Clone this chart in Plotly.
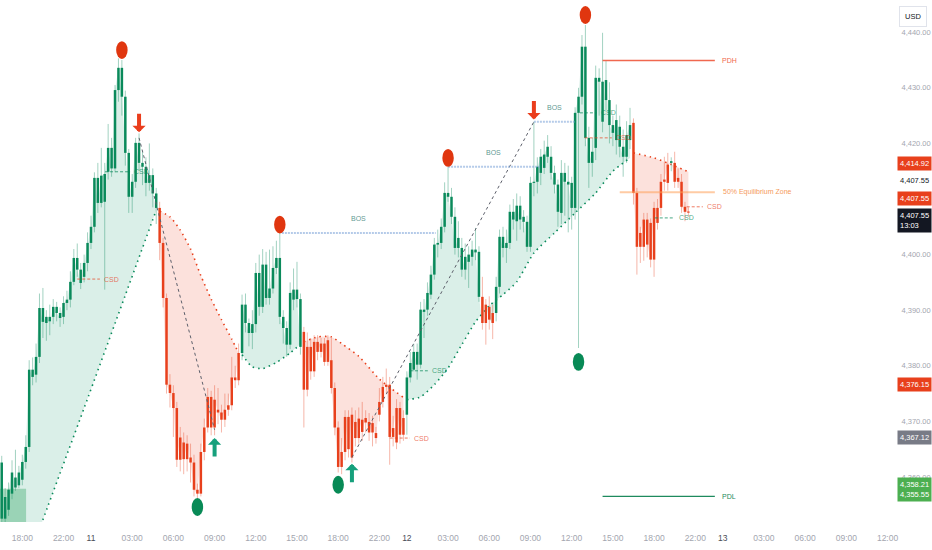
import math
import pandas as pd
import plotly.graph_objects as go

# XAUUSD 15m, 10 Nov 16:30 -> 12 Nov 20:30 (market shut in the 21:00 hour)
axis_times = pd.date_range("2025-11-10 16:30", "2025-11-13 12:00", freq="15min")
axis_times = axis_times[axis_times.hour != 21]

opens = [
    4352.5, 4356.4, 4354.1, 4357.0, 4359.9, 4358.5, 4359.5, 4362.7, 4365.4, 4379.3,
    4378.4, 4381.6, 4390.4, 4387.7, 4388.8, 4388.8, 4390.6, 4389.5, 4388.8, 4391.3,
    4391.9, 4395.1, 4399.4, 4397.3, 4396.0, 4398.5, 4402.1, 4405.0, 4413.8, 4409.3,
    4409.5, 4414.9, 4419.2, 4415.5, 4429.6, 4433.6, 4428.4, 4418.3, 4410.4, 4413.1,
    4420.1, 4416.5, 4415.8, 4412.9, 4414.3, 4411.0, 4408.4, 4402.1, 4392.2, 4376.6,
    4375.1, 4372.4, 4363.1, 4366.2, 4363.2, 4363.5, 4362.6, 4357.7, 4357.0, 4364.5,
    4368.9, 4374.4, 4368.9, 4372.1, 4371.6, 4370.3, 4372.1, 4372.9, 4377.9, 4377.4,
    4382.3, 4391.0, 4387.7, 4385.9, 4387.5, 4396.7, 4390.6, 4398.2, 4392.2, 4393.9,
    4397.6, 4399.4, 4388.8, 4386.8, 4383.8, 4391.9, 4393.7, 4392.0, 4386.1, 4375.7,
    4383.4, 4379.0, 4384.3, 4382.5, 4384.0, 4380.7, 4381.0, 4376.0, 4368.9, 4361.8,
    4364.5, 4370.8, 4363.5, 4369.9, 4367.0, 4370.3, 4369.8, 4369.9, 4368.0, 4367.9,
    4371.2, 4373.5, 4376.2, 4376.6, 4367.2, 4366.2, 4372.4, 4367.6, 4371.2, 4377.9,
    4379.3, 4382.5, 4380.2, 4390.1, 4390.1, 4392.8, 4396.4, 4401.8, 4402.1, 4405.0,
    4411.1, 4410.4, 4406.8, 4401.2, 4401.2, 4397.3, 4400.0, 4399.6, 4400.9, 4400.5,
    4392.4, 4387.7, 4390.6, 4389.5, 4389.5, 4394.2, 4403.2, 4401.2, 4402.1, 4407.7,
    4406.0, 4408.8, 4406.8, 4405.9, 4401.4, 4412.9, 4413.1, 4414.7, 4415.6, 4417.6,
    4417.6, 4414.7, 4412.6, 4407.5, 4414.7, 4413.1, 4412.9, 4408.4, 4425.5, 4428.4,
    4437.4, 4421.0, 4416.5, 4419.2, 4431.8, 4431.1, 4427.8, 4427.8, 4423.3, 4420.6,
    4423.0, 4419.4, 4417.6, 4420.6, 4423.7, 4411.1, 4401.4, 4401.4, 4406.3, 4405.7,
    4399.1, 4408.4, 4408.4, 4413.1, 4412.9, 4416.5, 4416.5, 4413.1, 4413.1, 4408.6,
    4407.7,
]
highs = [
    4363.8, 4358.0, 4359.0, 4363.0, 4364.9, 4362.0, 4364.0, 4367.5, 4381.0, 4381.5,
    4384.0, 4393.0, 4394.0, 4390.0, 4391.0, 4392.0, 4391.5, 4390.5, 4392.5, 4393.5,
    4397.0, 4401.0, 4402.0, 4398.5, 4400.0, 4404.0, 4407.0, 4414.8, 4416.5, 4419.2,
    4416.5, 4423.5, 4421.0, 4430.5, 4435.3, 4435.0, 4429.5, 4419.0, 4414.5, 4421.0,
    4421.8, 4418.5, 4417.5, 4420.0, 4415.5, 4412.0, 4409.5, 4403.0, 4393.0, 4378.5,
    4376.5, 4373.5, 4369.0, 4368.0, 4367.5, 4366.0, 4364.0, 4358.8, 4366.0, 4370.5,
    4376.0, 4375.5, 4376.5, 4376.0, 4373.0, 4375.0, 4375.0, 4381.6, 4380.0, 4384.0,
    4392.8, 4393.0, 4388.5, 4390.0, 4398.5, 4400.0, 4401.0, 4400.5, 4400.9, 4401.5,
    4402.5, 4403.9, 4390.0, 4388.0, 4395.0, 4397.5, 4398.7, 4393.0, 4387.0, 4386.0,
    4385.0, 4385.5, 4385.5, 4385.0, 4385.0, 4385.5, 4385.0, 4377.0, 4370.0, 4367.0,
    4372.0, 4372.0, 4372.5, 4372.0, 4372.5, 4373.5, 4372.0, 4371.5, 4371.0, 4369.0,
    4376.0, 4378.0, 4379.5, 4378.0, 4371.0, 4374.0, 4373.5, 4372.0, 4379.0, 4382.5,
    4384.0, 4384.0, 4391.5, 4392.0, 4395.0, 4398.0, 4403.0, 4404.5, 4406.5, 4413.0,
    4415.8, 4412.0, 4408.5, 4406.0, 4403.0, 4402.0, 4401.5, 4402.5, 4404.8, 4401.5,
    4396.0, 4392.0, 4392.5, 4391.0, 4396.0, 4404.5, 4405.0, 4404.5, 4409.0, 4410.0,
    4411.0, 4410.5, 4408.0, 4407.0, 4414.0, 4423.9, 4417.5, 4419.0, 4420.5, 4421.5,
    4419.5, 4416.0, 4413.5, 4417.0, 4416.5, 4416.0, 4414.0, 4426.5, 4430.0, 4439.5,
    4441.3, 4423.0, 4421.0, 4434.0, 4433.5, 4439.9, 4435.0, 4431.0, 4425.0, 4427.0,
    4425.0, 4422.5, 4424.0, 4426.4, 4424.5, 4412.0, 4405.0, 4407.5, 4407.5, 4406.5,
    4409.5, 4410.0, 4414.5, 4417.6, 4418.3, 4417.5, 4418.5, 4415.5, 4414.5, 4409.5,
    4408.5,
]
lows = [
    4350.0, 4351.0, 4353.0, 4356.0, 4357.5, 4358.0, 4358.5, 4361.5, 4364.5, 4376.5,
    4377.0, 4380.5, 4385.0, 4384.5, 4385.5, 4387.5, 4388.0, 4387.0, 4387.5, 4390.0,
    4390.5, 4394.5, 4396.0, 4393.8, 4395.0, 4397.0, 4401.0, 4404.0, 4407.5, 4408.5,
    4393.7, 4413.5, 4414.0, 4414.8, 4427.5, 4425.0, 4416.0, 4407.5, 4407.5, 4412.0,
    4415.0, 4412.5, 4410.5, 4411.5, 4408.5, 4405.5, 4399.0, 4390.5, 4375.0, 4372.5,
    4367.2, 4361.8, 4361.0, 4360.5, 4361.0, 4359.0, 4356.5, 4356.2, 4356.5, 4363.0,
    4368.0, 4367.5, 4367.5, 4369.5, 4368.0, 4369.0, 4371.0, 4372.0, 4376.0, 4376.5,
    4381.0, 4386.0, 4383.5, 4383.0, 4386.0, 4389.0, 4389.5, 4391.0, 4391.0, 4393.0,
    4396.5, 4387.5, 4384.0, 4381.6, 4383.0, 4390.0, 4390.5, 4382.0, 4368.9, 4374.5,
    4377.5, 4378.0, 4381.0, 4381.5, 4380.0, 4380.0, 4375.0, 4367.5, 4360.8, 4360.5,
    4363.0, 4363.5, 4362.6, 4365.5, 4366.0, 4366.5, 4368.0, 4366.5, 4365.5, 4366.0,
    4370.0, 4372.5, 4375.0, 4362.2, 4365.5, 4365.0, 4366.0, 4366.5, 4367.6, 4377.0,
    4379.0, 4377.5, 4379.5, 4385.0, 4389.0, 4392.0, 4395.5, 4399.5, 4401.0, 4404.0,
    4409.5, 4405.5, 4400.0, 4399.5, 4396.0, 4395.5, 4394.0, 4398.0, 4399.0, 4391.5,
    4386.5, 4383.8, 4386.5, 4384.8, 4388.0, 4393.0, 4399.5, 4398.5, 4401.0, 4404.5,
    4402.5, 4404.5, 4404.0, 4400.5, 4400.5, 4410.5, 4411.0, 4412.5, 4414.5, 4416.5,
    4413.5, 4411.0, 4405.0, 4405.5, 4407.0, 4404.0, 4404.5, 4406.3, 4383.2, 4427.0,
    4419.5, 4412.0, 4414.0, 4417.0, 4425.0, 4422.0, 4426.0, 4420.0, 4419.5, 4418.0,
    4417.5, 4414.0, 4416.5, 4419.0, 4409.0, 4396.4, 4398.5, 4398.9, 4399.5, 4397.7,
    4396.0, 4404.5, 4407.0, 4411.5, 4411.5, 4415.0, 4412.0, 4412.0, 4407.5, 4406.0,
    4406.8,
]
closes = [
    4362.6, 4352.5, 4357.7, 4360.8, 4358.1, 4360.8, 4362.7, 4365.4, 4379.3, 4378.0,
    4381.6, 4390.4, 4387.9, 4388.8, 4388.0, 4390.6, 4389.5, 4388.6, 4391.3, 4391.9,
    4395.1, 4399.4, 4397.3, 4394.9, 4398.5, 4402.1, 4405.0, 4413.8, 4409.3, 4414.2,
    4414.5, 4419.2, 4415.5, 4429.6, 4433.6, 4428.4, 4418.3, 4410.4, 4413.1, 4420.1,
    4416.5, 4415.8, 4412.9, 4414.3, 4411.0, 4408.4, 4402.1, 4392.2, 4376.6, 4375.1,
    4372.4, 4363.1, 4367.1, 4363.2, 4366.0, 4362.6, 4357.7, 4357.0, 4364.5, 4368.9,
    4374.4, 4368.9, 4373.9, 4371.6, 4370.3, 4372.1, 4372.9, 4377.9, 4377.4, 4382.3,
    4391.0, 4387.7, 4385.9, 4387.5, 4396.7, 4390.6, 4398.2, 4392.2, 4393.9, 4397.6,
    4399.4, 4388.8, 4386.8, 4383.8, 4393.1, 4393.7, 4392.0, 4383.4, 4375.7, 4383.4,
    4379.0, 4384.3, 4382.5, 4384.0, 4380.7, 4384.6, 4376.0, 4368.9, 4361.8, 4364.5,
    4370.8, 4365.0, 4371.2, 4367.0, 4370.5, 4368.1, 4370.6, 4368.0, 4369.7, 4367.0,
    4373.5, 4376.2, 4376.6, 4367.2, 4368.8, 4372.4, 4367.6, 4370.6, 4377.9, 4380.5,
    4382.5, 4380.2, 4390.1, 4389.7, 4393.1, 4396.4, 4401.8, 4402.1, 4405.0, 4411.1,
    4410.4, 4406.8, 4401.2, 4403.0, 4397.3, 4399.6, 4398.7, 4400.9, 4400.4, 4392.4,
    4387.7, 4391.0, 4388.3, 4387.7, 4394.2, 4403.2, 4401.2, 4402.1, 4407.7, 4406.3,
    4408.8, 4406.3, 4405.9, 4401.4, 4412.9, 4413.1, 4415.8, 4417.6, 4418.0, 4419.4,
    4414.7, 4412.6, 4407.7, 4414.7, 4413.1, 4412.6, 4408.4, 4425.5, 4428.4, 4437.4,
    4421.0, 4416.5, 4418.5, 4431.8, 4431.1, 4423.9, 4431.4, 4423.3, 4421.9, 4424.2,
    4419.4, 4417.6, 4421.5, 4423.3, 4411.1, 4401.4, 4403.9, 4406.3, 4401.8, 4399.1,
    4408.4, 4405.7, 4413.1, 4413.5, 4416.2, 4416.8, 4413.1, 4413.8, 4408.6, 4407.7,
    4407.55,
]
times = axis_times[:len(closes)]

# trend state (first bar, last bar, +1 up / -1 down) and bars painted against it
regimes = [(0, 45, 1), (46, 69, -1), (70, 87, 1), (88, 117, -1), (118, 183, 1), (184, 200, -1)]
off_trend_bars = [140, 141, 142, 143, 195]

# trailing stop read at a few bars per regime
trail_bars = [
    [0, 12, 24, 36, 45],
    [46, 49, 52, 55, 58, 61, 64, 67, 69],
    [70, 73, 76, 80, 84, 87],
    [88, 92, 96, 99, 104, 110, 117],
    [118, 122, 126, 130, 134, 138, 142, 146, 150, 155, 161, 167, 173, 178, 183],
    [184, 190, 195, 200],
]
trail_vals = [
    [4331.8, 4352.3, 4372.4, 4392.7, 4408.0],
    [4407.8, 4406.8, 4404.4, 4401.0, 4396.2, 4392.0, 4388.3, 4384.8, 4382.3],
    [4382.0, 4379.8, 4379.5, 4380.6, 4382.3, 4383.9],
    [4384.3, 4385.2, 4385.2, 4384.0, 4381.7, 4377.6, 4374.3],
    [4373.9, 4374.4, 4376.6, 4379.6, 4383.8, 4387.9, 4390.8, 4392.8, 4395.1,
     4400.3, 4403.9, 4407.5, 4411.1, 4415.0, 4417.4],
    [4418.3, 4417.4, 4416.2, 4414.9],
]

swing_high_bars = [35, 81, 130, 170]
swing_high_marks = [4436.8, 4405.4, 4417.4, 4443.1]
swing_low_bars = [57, 98, 168]
swing_low_marks = [4354.6, 4358.6, 4380.7]

sell_bars = [40, 155]
sell_tips = [4422.0, 4424.3]
buy_bars = [62, 102]
buy_tips = [4367.0, 4362.4]

# dashed swing links: (bar, price) -> (bar, price)
links = [((40, 4421.0), (62, 4368.5)), ((102, 4363.5), (155, 4423.9))]

bos_levels = [(81.6, 126.4, 4403.9), (130.0, 156.7, 4415.8), (155.0, 166.9, 4423.9)]

# CSD: first bar, last bar, price, side
csd_levels = [
    (22.0, 28.6, 4395.6, -1), (30.1, 37.4, 4414.9, 1),
    (113.0, 118.9, 4367.0, -1), (118.9, 124.1, 4379.1, 1),
    (168.4, 173.3, 4425.5, 1), (169.8, 177.7, 4421.0, -1),
    (190.2, 196.0, 4406.6, 1), (199.5, 204.2, 4408.6, -1),
]

pdh = (175.0, 207.7, 4434.9)
pdl = (175.0, 207.7, 4356.5)
equilibrium = (180.0, 207.7, 4411.2)
demand_zone = (-0.5, 7.1, 4357.9)

tag_values = [4414.92, 4407.55, 4407.55, 4407.55, 4376.15, 4367.12, 4358.21, 4355.55]
countdown = "13:03"

tick_times = [
    "2025-11-10 18:00", "2025-11-10 22:00", "2025-11-11 00:00", "2025-11-11 03:00",
    "2025-11-11 06:00", "2025-11-11 09:00", "2025-11-11 12:00", "2025-11-11 15:00",
    "2025-11-11 18:00", "2025-11-11 22:00", "2025-11-12 00:00", "2025-11-12 03:00",
    "2025-11-12 06:00", "2025-11-12 09:00", "2025-11-12 12:00", "2025-11-12 15:00",
    "2025-11-12 18:00", "2025-11-12 22:00", "2025-11-13 00:00", "2025-11-13 03:00",
    "2025-11-13 06:00", "2025-11-13 09:00", "2025-11-13 12:00",
]
tick_text = [
    "18:00", "22:00", "11", "03:00", "06:00", "09:00", "12:00", "15:00", "18:00",
    "22:00", "12", "03:00", "06:00", "09:00", "12:00", "15:00", "18:00", "22:00",
    "13", "03:00", "06:00", "09:00", "12:00",
]

GREEN = "#0a8a5b"
RED = "#e8401c"
GREEN_WICK = "rgba(10,138,91,0.38)"
RED_WICK = "rgba(232,64,28,0.38)"
GREEN_FILL = "rgba(10,150,100,0.15)"
RED_FILL = "rgba(240,80,50,0.17)"
FONT = "Liberation Sans, Arial, sans-serif"
STEP = pd.Timedelta(minutes=15)


def at(i):
    k = int(math.floor(i))
    if k < 0:
        return axis_times[0] + STEP * i
    return axis_times[k] + STEP * (i - k)


fig = go.Figure()

# trail fills + dotted trail
for (start, end, d), kb, kv in zip(regimes, trail_bars, trail_vals):
    fig.add_trace(go.Scatter(x=times[start:end + 1], y=closes[start:end + 1], mode="lines",
                             line=dict(width=0, color="rgba(0,0,0,0)"), hoverinfo="skip"))
    fig.add_trace(go.Scatter(x=[times[i] for i in kb], y=kv, mode="lines",
                             line=dict(color=GREEN if d > 0 else RED, width=1.6,
                                       dash="1.5px,4px", shape="spline", smoothing=0.6),
                             fill="tonexty", fillcolor=GREEN_FILL if d > 0 else RED_FILL,
                             hoverinfo="skip"))

# candles coloured by trend state
state = [0] * len(closes)
for start, end, d in regimes:
    for i in range(start, end + 1):
        state[i] = d
for i in off_trend_bars:
    state[i] = -state[i]

for d, body_col, wick_col in [(1, GREEN, GREEN_WICK), (-1, RED, RED_WICK)]:
    wx, wy, bx, by = [], [], [], []
    for t, o, h, l, c, s in zip(times, opens, highs, lows, closes, state):
        if s != d:
            continue
        lo, hi = min(o, c), max(o, c)
        hi = max(hi, lo + 0.2)
        wx += [t, t, None]
        wy += [l, h, None]
        bx += [t, t, None]
        by += [lo, hi, None]
    fig.add_trace(go.Scatter(x=wx, y=wy, mode="lines", line=dict(color=wick_col, width=1),
                             hoverinfo="skip"))
    fig.add_trace(go.Scatter(x=bx, y=by, mode="lines", line=dict(color=body_col, width=2.5),
                             hoverinfo="skip"))

# dashed swing links
for (b0, p0), (b1, p1) in links:
    fig.add_trace(go.Scatter(x=[at(b0), at(b1)], y=[p0, p1], mode="lines",
                             line=dict(color="#5d606b", width=1, dash="3px,3px"), hoverinfo="skip"))

annotations = []

# BOS
for b0, b1, p in bos_levels:
    fig.add_trace(go.Scatter(x=[at(b0), at(b1)], y=[p, p], mode="lines",
                             line=dict(color="rgba(120,160,215,0.55)", width=2, dash="2px,1px"),
                             hoverinfo="skip"))
    annotations.append(dict(x=at((b0 + b1) / 2), y=p, text="BOS", showarrow=False,
                            yanchor="bottom", yshift=9,
                            font=dict(size=7, color="rgba(50,125,115,0.8)", family=FONT)))

# CSD
for b0, b1, p, side in csd_levels:
    col = "rgba(10,138,91,0.75)" if side > 0 else "rgba(232,64,28,0.7)"
    fig.add_trace(go.Scatter(x=[at(b0), at(b1)], y=[p, p], mode="lines",
                             line=dict(color=col, width=1, dash="3px,2px"), hoverinfo="skip"))
    annotations.append(dict(x=at(b1), y=p, text="CSD", showarrow=False, xanchor="left",
                            xshift=2, font=dict(size=7, color=col, family=FONT)))

# PDH / PDL / equilibrium
for (b0, b1, p), name, col, txt_col, w in [
        (pdh, "PDH", "#f0684f", "#f0684f", 1.5),
        (pdl, "PDL", "#1e8a5e", "#1e8a5e", 1.2),
        (equilibrium, "50% Equilibrium Zone", "rgba(255,160,90,0.55)", "#f59a5c", 2)]:
    fig.add_trace(go.Scatter(x=[at(b0), at(b1)], y=[p, p], mode="lines",
                             line=dict(color=col, width=w), hoverinfo="skip"))
    annotations.append(dict(x=at(b1), y=p, text=name, showarrow=False, xanchor="left",
                            xshift=6 if name.startswith("50") else 5,
                            font=dict(size=7, color=txt_col, family=FONT)))

# buy / sell arrows
for b, tip in zip(sell_bars, sell_tips):
    annotations.append(dict(x=times[b], y=tip, text="", showarrow=True, ax=0, ay=-20,
                            arrowhead=1, arrowsize=0.55, arrowwidth=4, arrowcolor="#ea3d1c",
                            standoff=0))
for b, tip in zip(buy_bars, buy_tips):
    annotations.append(dict(x=times[b], y=tip, text="", showarrow=True, ax=0, ay=20,
                            arrowhead=1, arrowsize=0.55, arrowwidth=4, arrowcolor="#16a07c",
                            standoff=0))

# price scale tags
tag_styles = [
    (RED, "white", 8.6), ("white", "#131722", 31.8), (RED, "white", 13.8),
    ("#131722", "white", -8.2), (RED, "white", 2.4), ("#787b86", "white", 0.0),
    ("#4caf50", "white", -2.3),
]
for k, (bg, fg, shift) in enumerate(tag_styles):
    v = tag_values[k]
    text = f"{v:,.2f}"
    if k == 3:
        text += "<br>" + countdown
    if k == 6:
        text += "<br>" + f"{tag_values[7]:,.2f}"
    annotations.append(dict(xref="paper", x=897 / 888, y=v, yref="y", text=text,
                            showarrow=False, xanchor="left", yshift=shift, align="left",
                            bgcolor=bg, borderpad=2,
                            font=dict(size=7.5, color=fg, family=FONT)))

annotations.append(dict(xref="paper", yref="paper", x=912.5 / 888, y=1 - 16 / 522, text="USD",
                        xanchor="center", yanchor="middle",
                        showarrow=False, bgcolor="white", bordercolor="#e0e3eb", borderwidth=1,
                        borderpad=5, font=dict(size=7.5, color="#131722", family=FONT)))

shapes = []
b0, b1, top = demand_zone
shapes.append(dict(type="rect", xref="x", yref="y", x0=at(b0), x1=at(b1), y0=top - 20, y1=top,
                   fillcolor="rgba(40,160,90,0.35)", line=dict(width=0), layer="below"))
half_w = pd.Timedelta(minutes=25)
for b, p in zip(swing_high_bars, swing_high_marks):
    shapes.append(dict(type="circle", xref="x", yref="y", x0=times[b] - half_w,
                       x1=times[b] + half_w, y0=p - 1.6, y1=p + 1.6,
                       fillcolor="#e0360f", line=dict(width=0)))
for b, p in zip(swing_low_bars, swing_low_marks):
    shapes.append(dict(type="circle", xref="x", yref="y", x0=times[b] - half_w,
                       x1=times[b] + half_w, y0=p - 1.6, y1=p + 1.6,
                       fillcolor="#088a56", line=dict(width=0)))

tick_labels = [f"<span style='color:#4a4d57'>{t}</span>" if ":" not in t else t for t in tick_text]

fig.update_layout(
    width=932, height=550,
    margin=dict(l=0, r=44, t=0, b=28),
    paper_bgcolor="white", plot_bgcolor="white",
    showlegend=False, hovermode=False,
    annotations=annotations, shapes=shapes,
    font=dict(family=FONT),
    xaxis=dict(
        type="date",
        range=[at(-0.5), at(258) + pd.Timedelta(minutes=2)],
        rangebreaks=[dict(bounds=[21, 22], pattern="hour")],
        tickvals=tick_times, ticktext=tick_labels,
        showgrid=False, zeroline=False, showline=False,
        ticks="outside", ticklen=8, tickcolor="rgba(0,0,0,0)",
        tickfont=dict(size=8.5, color="#a3a6af", family=FONT),
    ),
    yaxis=dict(
        side="right",
        range=[4351.9, 4445.8],
        tickvals=[4360, 4370, 4380, 4390, 4400, 4420, 4430, 4440],
        tickformat=",.2f",
        showgrid=False, zeroline=False, showline=False,
        ticks="outside", ticklen=11, tickcolor="rgba(0,0,0,0)",
        tickfont=dict(size=7.5, color="#a3a6af", family=FONT),
    ),
)

# drop the page's default body margin so the chart sits at the window's top-left
fig.write_html("out.html", config={"displayModeBar": False},
               post_script="document.body.style.margin='0';")
